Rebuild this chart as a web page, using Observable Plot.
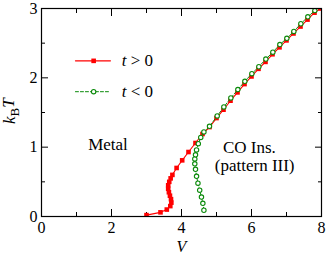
<!DOCTYPE html>
<html>
<head>
<meta charset="utf-8">
<script src="https://cdn.jsdelivr.net/npm/d3@7"></script>
<script src="https://cdn.jsdelivr.net/npm/@observablehq/plot@0.6"></script>
<style>
  html, body { margin: 0; padding: 0; background: #fff; }
  svg, svg text { font-family: "Liberation Serif", "Times New Roman", serif; }
</style>
</head>
<body>
<div id="chart"></div>
<script>
// t > 0 (red squares)
const redV = [3.00, 3.40, 3.58, 3.68, 3.71, 3.70, 3.67, 3.64, 3.62, 3.62, 3.65, 3.69, 3.74, 3.86, 4.02, 4.20, 4.40, 4.60, 4.80,
              5.00, 5.20, 5.40, 5.60, 5.80, 6.00, 6.20, 6.40, 6.60, 6.80, 7.00, 7.20, 7.40, 7.60, 7.80, 7.97];
const redT = [0.02, 0.06, 0.10, 0.15, 0.20, 0.25, 0.30, 0.35, 0.40, 0.45, 0.50, 0.55, 0.60, 0.70, 0.81, 0.93, 1.06, 1.19, 1.29,
              1.42, 1.54, 1.67, 1.79, 1.91, 2.02, 2.13, 2.23, 2.34, 2.44, 2.54, 2.64, 2.74, 2.84, 2.94, 3.00];
// t < 0 (green open circles)
const greenV = [4.64, 4.61, 4.57, 4.52, 4.47, 4.43, 4.40, 4.38, 4.38, 4.40, 4.43, 4.48, 4.55, 4.64, 4.80,
                5.02, 5.21, 5.41, 5.61, 5.81, 6.01, 6.21, 6.41, 6.61, 6.81, 7.01, 7.21, 7.41, 7.61, 7.81];
const greenT = [0.09, 0.19, 0.28, 0.38, 0.48, 0.58, 0.68, 0.76, 0.83, 0.89, 0.96, 1.05, 1.14, 1.22, 1.30,
                1.45, 1.58, 1.71, 1.83, 1.95, 2.06, 2.16, 2.27, 2.37, 2.48, 2.57, 2.67, 2.78, 2.88, 2.97];

const xMajor = [0, 2, 4, 6, 8];
const xMinor = [1, 3, 5, 7];
const yMajor = [0, 1, 2, 3];
const yMinor = [0.5, 1.5, 2.5];

const legendLabels = ["t > 0", "t < 0"];
const regionLabels = ["Metal", "CO Ins.", "(pattern III)"];
const axisLabels = ["kBT", "V"];

const RED = "#ff0000";
const GREEN = "#0a8a0a";
const FONT = "Liberation Serif";

const red = redV.map((v, i) => ({V: v, T: redT[i]}));
const green = greenV.map((v, i) => ({V: v, T: greenT[i]}));

const legRed = [{V: 0.97, T: 2.245}, {V: 1.97, T: 2.245}];
const legGreen = [{V: 0.97, T: 1.80}, {V: 1.97, T: 1.80}];

const fs = 16;
const fmt = d => String(d);
const chart = Plot.plot({
  width: 327,
  height: 255,
  marginLeft: 41,
  marginRight: 6,
  marginTop: 8,
  marginBottom: 39,
  style: {fontFamily: FONT, fontSize: fs + "px", background: "#fff", overflow: "visible"},
  x: {domain: [0, 8]},
  y: {domain: [0, 3]},
  marks: [
    // tick labels
    Plot.axisX(xMajor, {anchor: "bottom", tickSize: 0, tickPadding: 5, fontSize: fs, fontFamily: FONT, tickFormat: fmt, label: null}),
    Plot.axisY(yMajor, {anchor: "left", tickSize: 0, tickPadding: 4, fontSize: fs, fontFamily: FONT, tickFormat: fmt, label: null}),
    // inward ticks
    Plot.axisX(xMajor, {anchor: "bottom", tickSize: -7, text: null, label: null}),
    Plot.axisX(xMinor, {anchor: "bottom", tickSize: -4, text: null, label: null}),
    Plot.axisX(xMajor, {anchor: "top", tickSize: -7, text: null, label: null}),
    Plot.axisX(xMinor, {anchor: "top", tickSize: -4, text: null, label: null}),
    Plot.axisY(yMajor, {anchor: "left", tickSize: -7, text: null, label: null}),
    Plot.axisY(yMinor, {anchor: "left", tickSize: -4, text: null, label: null}),
    Plot.axisY(yMajor, {anchor: "right", tickSize: -7, text: null, label: null}),
    Plot.axisY(yMinor, {anchor: "right", tickSize: -4, text: null, label: null}),
    // curves
    Plot.line(red, {x: "V", y: "T", stroke: RED, strokeWidth: 1.1, clip: true}),
    Plot.dot(red, {x: "V", y: "T", symbol: "square", fill: RED, r: 2.6, clip: true}),
    Plot.line(green, {x: "V", y: "T", stroke: GREEN, strokeWidth: 1, strokeDasharray: "3,2", clip: true}),
    Plot.dot(green, {x: "V", y: "T", symbol: "circle", stroke: GREEN, fill: "white", strokeWidth: 1.1, r: 2.2, clip: true}),
    // legend
    Plot.line(legRed, {x: "V", y: "T", stroke: RED, strokeWidth: 1.1}),
    Plot.dot([{V: 1.49, T: 2.245}], {x: "V", y: "T", symbol: "square", fill: RED, r: 2.6}),
    Plot.line(legGreen, {x: "V", y: "T", stroke: GREEN, strokeWidth: 1, strokeDasharray: "3,2"}),
    Plot.dot([{V: 1.49, T: 1.80}], {x: "V", y: "T", symbol: "circle", stroke: GREEN, fill: "white", strokeWidth: 1.1, r: 2.2}),
    Plot.text([legendLabels[0]], {x: 2.29, y: 2.245, text: d => d, textAnchor: "start", fontSize: 17, fontFamily: FONT}),
    Plot.text([legendLabels[1]], {x: 2.29, y: 1.80, text: d => d, textAnchor: "start", fontSize: 17, fontFamily: FONT}),
    // region labels
    Plot.text([regionLabels[0]], {x: 1.9, y: 1.035, text: d => d, fontSize: 17, fontFamily: FONT}),
    Plot.text([regionLabels[1]], {x: 5.94, y: 1.0, text: d => d, fontSize: 17, fontFamily: FONT}),
    Plot.text([regionLabels[2]], {x: 6.09, y: 0.735, text: d => d, fontSize: 17, fontFamily: FONT}),
    // axis labels
    Plot.text([axisLabels[0]], {x: -0.9, y: 1.52, text: d => d, rotate: -90, fontSize: 17, fontFamily: FONT}),
    Plot.text([axisLabels[1]], {x: 4.0, y: -0.435, text: d => d, fontSize: 16, fontStyle: "italic", fontFamily: FONT}),
    Plot.frame({stroke: "black", strokeWidth: 1.2})
  ]
});
document.getElementById("chart").appendChild(chart);

// rich text: italic variables and subscript; enforce serif font inline
d3.select(chart).selectAll("text").each(function() {
  const el = d3.select(this);
  el.style("font-family", "'Liberation Serif', 'Times New Roman', serif");
  const t = el.text();
  if (t === "t > 0" || t === "t < 0") {
    el.text(null);
    el.append("tspan").attr("font-style", "italic").text("t");
    el.append("tspan").text(t.slice(1));
  } else if (t === "kBT") {
    el.text(null);
    el.append("tspan").attr("font-style", "italic").text("k");
    el.append("tspan").attr("font-size", "13px").attr("dy", "0.3em").text("B");
    el.append("tspan").attr("font-style", "italic").attr("dy", "-0.3em").text("T");
  }
});
</script>
</body>
</html>
